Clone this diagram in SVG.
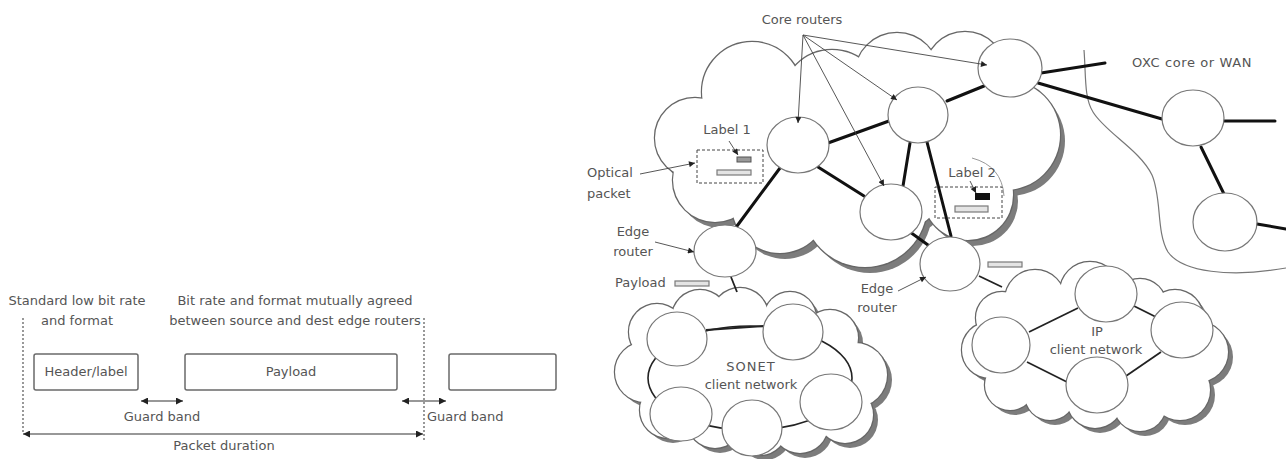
<svg xmlns="http://www.w3.org/2000/svg" xmlns:xlink="http://www.w3.org/1999/xlink" width="1286" height="459" viewBox="0 0 1286 459">
  <style>
    text { font-family: "DejaVu Sans", "Liberation Sans", sans-serif; font-size: 13px; fill: #555; }
    .mid { text-anchor: middle; }
    .box { fill: #fff; stroke: #6a6a6a; stroke-width: 1.5; }
    .dotted { fill: none; stroke: #555; stroke-width: 1.2; stroke-dasharray: 2 2; }
    .dim { fill: none; stroke: #333; stroke-width: 1.2; }
    .node { fill: #fff; stroke: #777; stroke-width: 1.2; }
    .trunk { fill: none; stroke: #111; stroke-width: 3; stroke-linecap: round; }
    .tie { fill: none; stroke: #222; stroke-width: 1.8; }
    .pointer { fill: none; stroke: #444; stroke-width: 0.9; }
    .dash { fill: none; stroke: #444; stroke-width: 1; stroke-dasharray: 3 2; }
    .shadow { fill: #7c7c7c; stroke: none; }
    .rim { fill: none; stroke: #666; stroke-width: 2.4; }
    .inner { fill: #fff; stroke: none; }
    .pkt { fill: #e4e4e4; stroke: #7a7a7a; stroke-width: 1.2; }
  </style>
  <defs>
    <marker id="ah" viewBox="0 0 10 10" refX="10" refY="5" markerWidth="8" markerHeight="7" markerUnits="userSpaceOnUse" orient="auto-start-reverse">
      <path d="M0,0 L10,5 L0,10 z" fill="#222"/>
    </marker>
    <marker id="ahs" viewBox="0 0 10 10" refX="10" refY="5" markerWidth="7" markerHeight="6" markerUnits="userSpaceOnUse" orient="auto">
      <path d="M0,0 L10,5 L0,10 z" fill="#222"/>
    </marker>

    <!-- bump shapes for the three clouds -->
    <g id="core-bumps">
      <circle cx="695" cy="138" r="40"/>
      <circle cx="715" cy="180" r="42"/>
      <circle cx="752" cy="92" r="50"/>
      <circle cx="832" cy="100" r="50"/>
      <circle cx="897" cy="75" r="42"/>
      <circle cx="965" cy="72" r="40"/>
      <circle cx="1005" cy="135" r="55"/>
      <circle cx="968" cy="195" r="45"/>
      <circle cx="865" cy="205" r="62"/>
      <circle cx="780" cy="205" r="48"/>
      <circle cx="870" cy="150" r="90"/>
      <circle cx="760" cy="150" r="60"/>
      <circle cx="960" cy="140" r="60"/>
    </g>
    <g id="sonet-bumps">
      <circle cx="645" cy="372" r="30"/>
      <circle cx="657" cy="332" r="28"/>
      <circle cx="700" cy="318" r="28"/>
      <circle cx="740" cy="316" r="28"/>
      <circle cx="790" cy="318" r="26"/>
      <circle cx="830" cy="338" r="28"/>
      <circle cx="855" cy="375" r="32"/>
      <circle cx="845" cy="415" r="28"/>
      <circle cx="800" cy="425" r="28"/>
      <circle cx="760" cy="428" r="27"/>
      <circle cx="715" cy="420" r="28"/>
      <circle cx="668" cy="410" r="28"/>
      <ellipse cx="750" cy="375" rx="100" ry="68"/>
    </g>
    <g id="ip-bumps">
      <circle cx="990" cy="350" r="28"/>
      <circle cx="1002" cy="318" r="26"/>
      <circle cx="1035" cy="300" r="30"/>
      <circle cx="1090" cy="292" r="30"/>
      <circle cx="1140" cy="305" r="26"/>
      <circle cx="1175" cy="318" r="28"/>
      <circle cx="1198" cy="352" r="30"/>
      <circle cx="1180" cy="390" r="30"/>
      <circle cx="1140" cy="405" r="26"/>
      <circle cx="1095" cy="400" r="28"/>
      <circle cx="1050" cy="395" r="25"/>
      <circle cx="1010" cy="385" r="25"/>
      <ellipse cx="1098" cy="350" rx="95" ry="58"/>
    </g>
  </defs>

  <rect width="1286" height="459" fill="#fff"/>

  <!-- ===== Optical packet format ===== -->
  <g id="packet-format">
    <text class="mid" x="77" y="305">Standard low bit rate</text>
    <text class="mid" x="77" y="325">and format</text>
    <text class="mid" x="295" y="305">Bit rate and format mutually agreed</text>
    <text class="mid" x="295" y="325">between source and dest edge routers</text>

    <g id="header-box">
      <rect class="box" x="34" y="354" width="104" height="36" rx="2"/>
      <text class="mid" x="86" y="376">Header/label</text>
    </g>
    <g id="payload-box">
      <rect class="box" x="185" y="354" width="212" height="36" rx="2"/>
      <text class="mid" x="291" y="376">Payload</text>
    </g>
    <g id="next-header-box">
      <rect class="box" x="449" y="354" width="107" height="36" rx="2"/>
    </g>

    <g id="packet-connectors">
      <line class="dotted" x1="23" y1="318" x2="23" y2="432"/>
      <line class="dotted" x1="424" y1="318" x2="424" y2="440"/>
      <line class="dim" x1="141" y1="401" x2="183" y2="401" marker-start="url(#ah)" marker-end="url(#ah)"/>
      <line class="dim" x1="402" y1="401" x2="446" y2="401" marker-start="url(#ah)" marker-end="url(#ah)"/>
      <line class="dim" x1="23" y1="434" x2="423" y2="434" marker-start="url(#ah)" marker-end="url(#ah)"/>
    </g>
    <text class="mid" x="162" y="421">Guard band</text>
    <text x="427" y="421">Guard band</text>
    <text class="mid" x="224" y="450">Packet duration</text>
  </g>

  <!-- ===== Optical packet switched network ===== -->
  <!-- OXC / WAN boundary -->
  <path d="M1084,50 C1086,75 1084,98 1093,112 C1105,132 1140,150 1152,175 C1162,198 1156,232 1168,252 C1182,272 1230,278 1286,268" fill="none" stroke="#777" stroke-width="1.2"/>
  <text class="mid" x="1192" y="67" letter-spacing="0.6">OXC core or WAN</text>

  <!-- core cloud -->
  <g id="core-cloud">
    <use xlink:href="#core-bumps" class="shadow" transform="translate(5,6)"/>
    <use xlink:href="#core-bumps" class="rim"/>
    <use xlink:href="#core-bumps" class="inner"/>
    <path d="M972,158 Q1002,166 1004,196" fill="none" stroke="#999" stroke-width="1"/>
  </g>

  <!-- SONET client cloud -->
  <g id="sonet-cloud">
    <use xlink:href="#sonet-bumps" class="shadow" transform="translate(5,5)"/>
    <use xlink:href="#sonet-bumps" class="rim"/>
    <use xlink:href="#sonet-bumps" class="inner"/>
    <ellipse cx="750" cy="378" rx="102" ry="52" fill="none" stroke="#222" stroke-width="1.6"/>
  </g>

  <!-- IP client cloud -->
  <g id="ip-cloud">
    <use xlink:href="#ip-bumps" class="shadow" transform="translate(5,5)"/>
    <use xlink:href="#ip-bumps" class="rim"/>
    <use xlink:href="#ip-bumps" class="inner"/>
  </g>

  <!-- links between routers -->
  <g id="links">
    <line class="trunk" x1="828" y1="143" x2="889" y2="121"/>
    <line class="trunk" x1="947" y1="101" x2="984" y2="86"/>
    <line class="trunk" x1="818" y1="167" x2="864" y2="196"/>
    <line class="trunk" x1="780" y1="168" x2="737" y2="226"/>
    <line class="trunk" x1="910" y1="143" x2="903" y2="186"/>
    <line class="trunk" x1="927" y1="142" x2="951" y2="236"/>
    <line class="trunk" x1="910" y1="232" x2="928" y2="245"/>
    <line class="trunk" x1="1041" y1="73" x2="1105" y2="63"/>
    <line class="trunk" x1="1038" y1="83" x2="1162" y2="119"/>
    <line class="trunk" x1="1224" y1="121" x2="1275" y2="121"/>
    <line class="trunk" x1="1201" y1="147" x2="1224" y2="194"/>
    <line class="trunk" x1="1257" y1="224" x2="1286" y2="229"/>
    <line class="tie" x1="731" y1="277" x2="737" y2="292"/>
    <line class="tie" x1="979" y1="276" x2="1002" y2="287"/>
    <line class="tie" x1="706" y1="330" x2="764" y2="326"/>
    <line class="tie" x1="1029" y1="332" x2="1078" y2="308"/>
    <line class="tie" x1="1134" y1="306" x2="1156" y2="317"/>
    <line class="tie" x1="1161" y1="352" x2="1126" y2="376"/>
    <line class="tie" x1="1067" y1="382" x2="1027" y2="362"/>
  </g>

  <!-- core network routers -->
  <g id="core-router-1"><ellipse class="node" cx="798" cy="145" rx="31" ry="28"/></g>
  <g id="core-router-2"><ellipse class="node" cx="918" cy="115" rx="30" ry="28"/></g>
  <g id="core-router-3"><ellipse class="node" cx="1010" cy="68" rx="32" ry="29"/></g>
  <g id="core-router-4"><ellipse class="node" cx="891" cy="212" rx="31" ry="28"/></g>
  <g id="edge-router-1"><ellipse class="node" cx="725" cy="251" rx="31" ry="26"/></g>
  <g id="edge-router-2"><ellipse class="node" cx="950" cy="264" rx="30" ry="27"/></g>
  <g id="oxc-1"><ellipse class="node" cx="1193" cy="118" rx="31" ry="28"/></g>
  <g id="oxc-2"><ellipse class="node" cx="1225" cy="222" rx="32" ry="29"/></g>

  <!-- SONET ring nodes -->
  <g id="sonet-1"><ellipse class="node" cx="677" cy="339" rx="30" ry="27"/></g>
  <g id="sonet-2"><ellipse class="node" cx="793" cy="332" rx="30" ry="28"/></g>
  <g id="sonet-3"><ellipse class="node" cx="831" cy="402" rx="31" ry="28"/></g>
  <g id="sonet-4"><ellipse class="node" cx="752" cy="428" rx="30" ry="28"/></g>
  <g id="sonet-5"><ellipse class="node" cx="681" cy="414" rx="31" ry="27"/></g>
  <text class="mid" x="751" y="371" letter-spacing="1">SONET</text>
  <text class="mid" x="751" y="389">client network</text>

  <!-- IP client nodes -->
  <g id="ip-1"><ellipse class="node" cx="1106" cy="294" rx="31" ry="28"/></g>
  <g id="ip-2"><ellipse class="node" cx="1182" cy="330" rx="31" ry="28"/></g>
  <g id="ip-3"><ellipse class="node" cx="1097" cy="385" rx="31" ry="28"/></g>
  <g id="ip-4"><ellipse class="node" cx="1001" cy="345" rx="29" ry="28"/></g>
  <text class="mid" x="1097" y="336">IP</text>
  <text class="mid" x="1096" y="354">client network</text>

  <!-- optical packets -->
  <g id="packet-1">
    <rect class="dash" x="697" y="150" width="66" height="33"/>
    <rect x="737" y="157" width="14" height="5" fill="#999" stroke="#555" stroke-width="1"/>
    <rect class="pkt" x="717" y="170" width="34" height="5"/>
    <text class="mid" x="727" y="134">Label 1</text>
  </g>
  <g id="packet-2">
    <rect class="dash" x="935" y="187" width="67" height="31"/>
    <rect x="975" y="193" width="15" height="7" fill="#111"/>
    <rect class="pkt" x="955" y="206" width="33" height="6"/>
    <text class="mid" x="972" y="177">Label 2</text>
  </g>
  <rect class="pkt" x="675" y="281" width="34" height="5"/>
  <rect class="pkt" x="988" y="262" width="34" height="5"/>

  <!-- labels with pointers -->
  <g id="pointers">
    <line class="pointer" x1="803" y1="35" x2="798" y2="123" marker-end="url(#ahs)"/>
    <line class="pointer" x1="803" y1="35" x2="897" y2="100" marker-end="url(#ahs)"/>
    <line class="pointer" x1="803" y1="35" x2="987" y2="65" marker-end="url(#ahs)"/>
    <line class="pointer" x1="803" y1="35" x2="884" y2="186" marker-end="url(#ahs)"/>
    <line class="pointer" x1="640" y1="174" x2="695" y2="163" marker-end="url(#ahs)"/>
    <line class="pointer" x1="729" y1="141" x2="738" y2="155" marker-end="url(#ahs)"/>
    <line class="pointer" x1="970" y1="181" x2="976" y2="193" marker-end="url(#ahs)"/>
    <line class="pointer" x1="655" y1="242" x2="694" y2="252" marker-end="url(#ahs)"/>
    <line class="pointer" x1="898" y1="291" x2="926" y2="277" marker-end="url(#ahs)"/>
  </g>
  <text class="mid" x="802" y="24">Core routers</text>
  <text x="587" y="177">Optical</text>
  <text x="587" y="198">packet</text>
  <text class="mid" x="633" y="236">Edge</text>
  <text class="mid" x="633" y="256">router</text>
  <text class="mid" x="877" y="293">Edge</text>
  <text class="mid" x="877" y="312">router</text>
  <text x="615" y="287">Payload</text>
</svg>
